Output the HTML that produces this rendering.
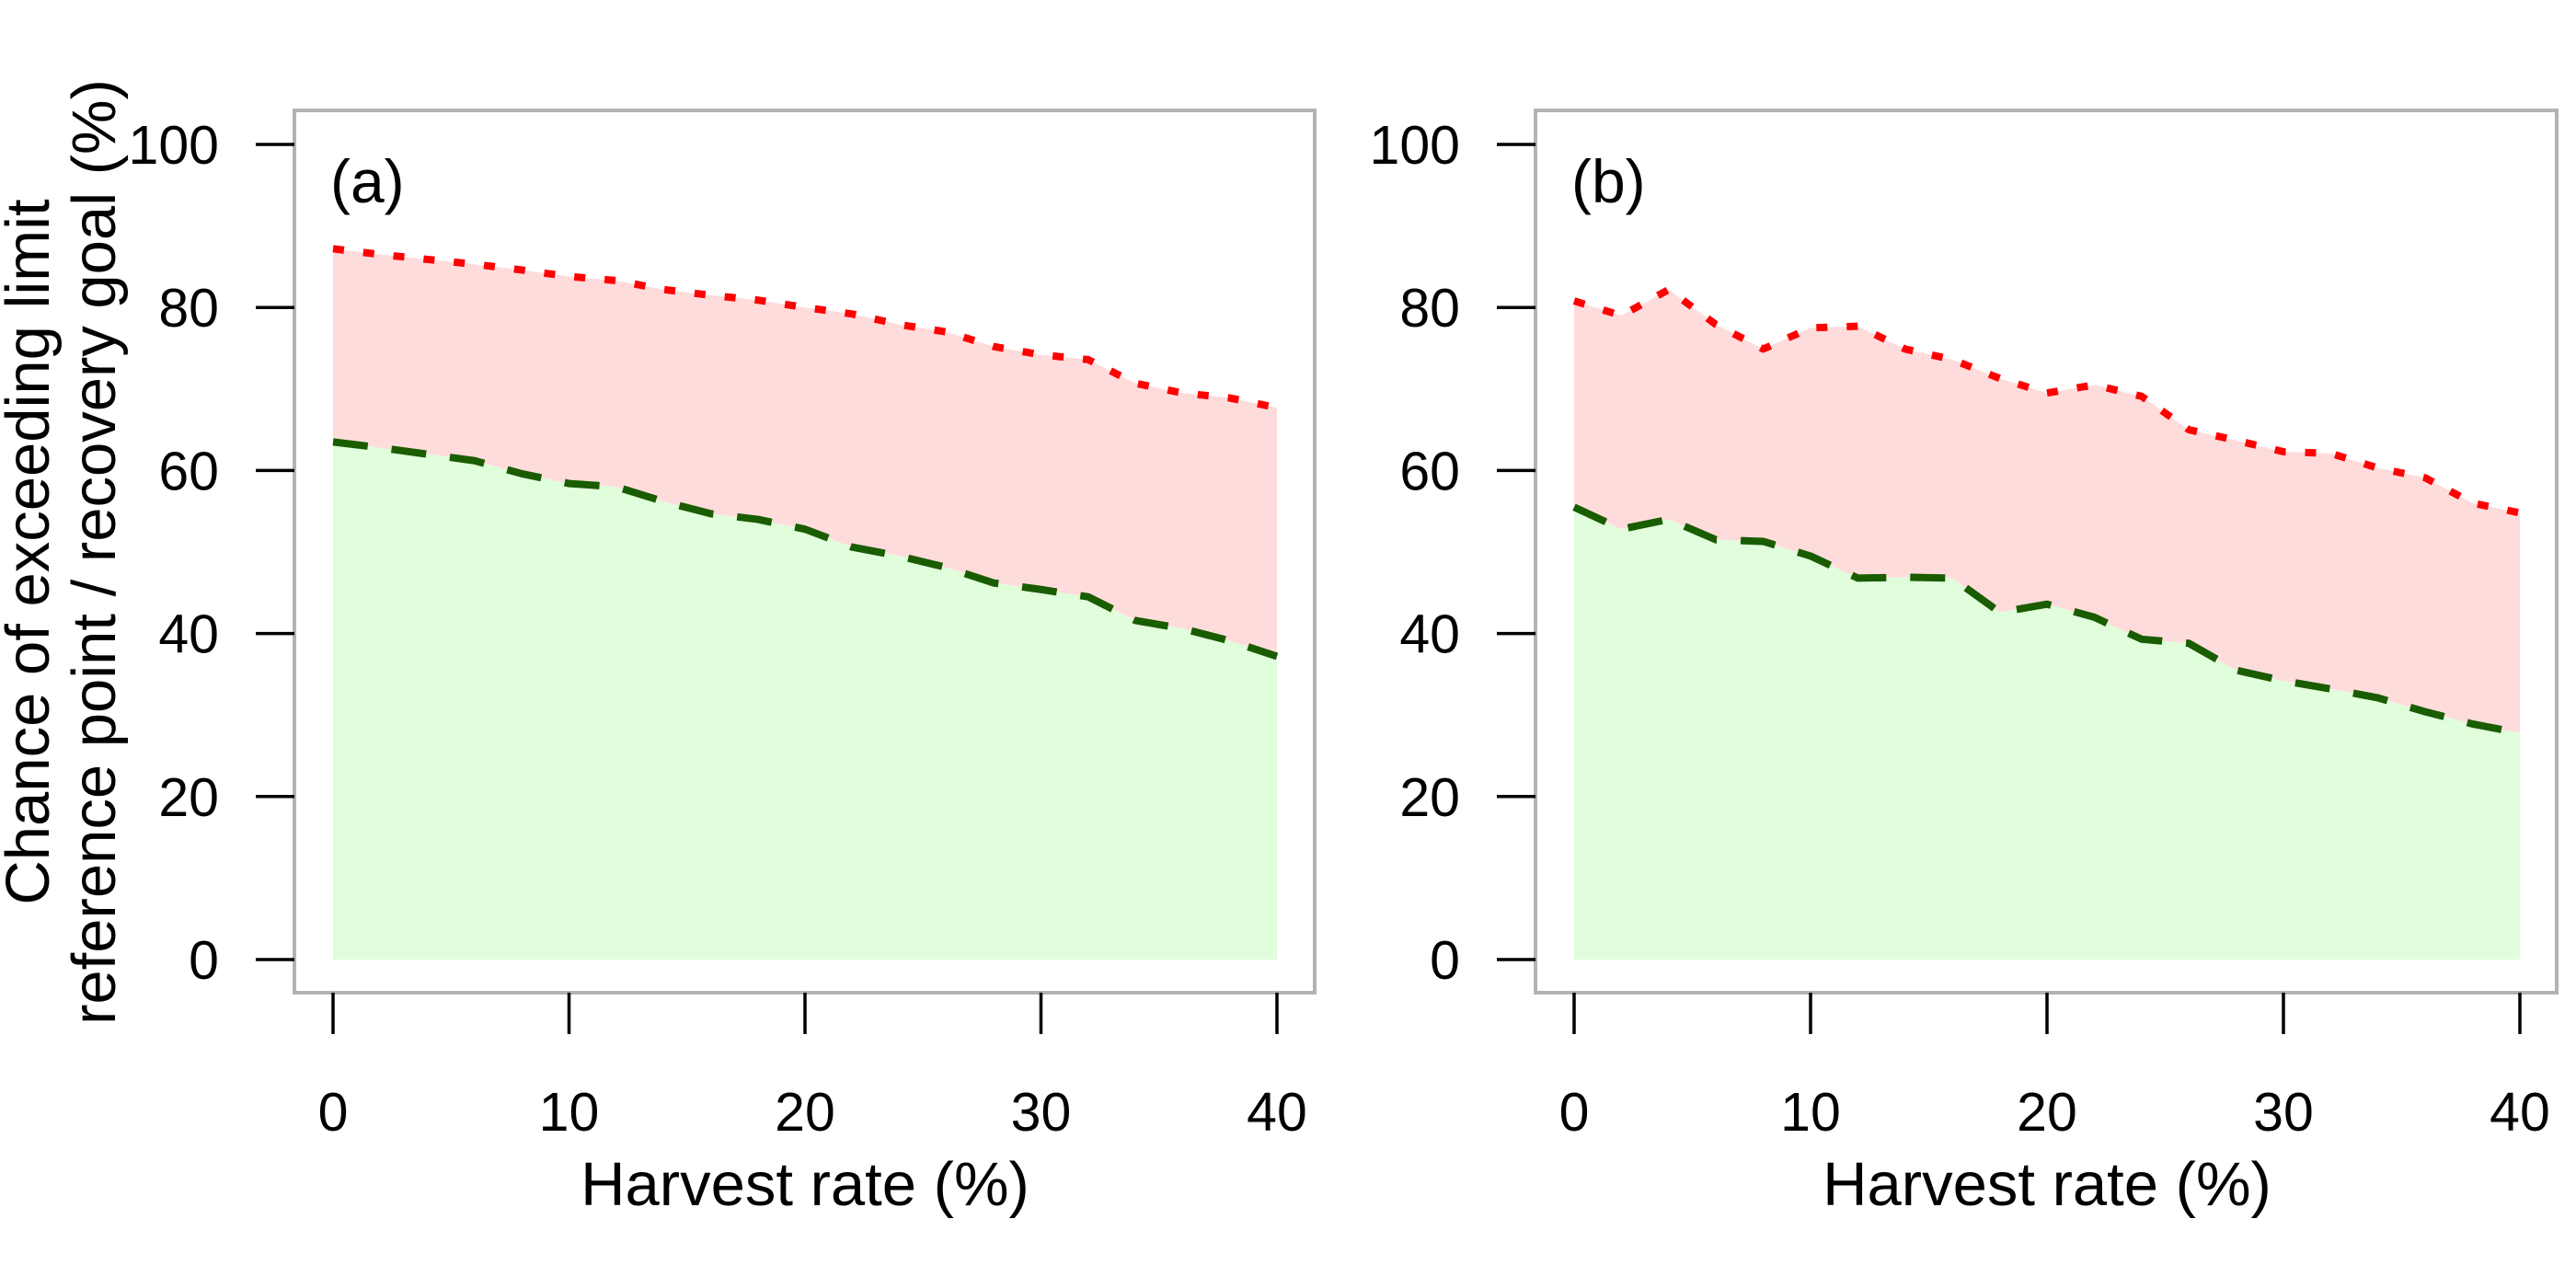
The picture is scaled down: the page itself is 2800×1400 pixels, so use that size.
<!DOCTYPE html>
<html><head><meta charset="utf-8"><style>
html,body{margin:0;padding:0;background:#fff}
svg{display:block;font-family:"Liberation Sans",Arial,sans-serif}
</style></head><body>
<svg id="chart" width="2800" height="1400" viewBox="0 0 2800 1400" xmlns="http://www.w3.org/2000/svg">
<g font-size="67" text-anchor="middle" fill="#000">
<text transform="translate(53,600) rotate(-90)">Chance of exceeding limit</text>
<text transform="translate(125,600) rotate(-90)">reference point / recovery goal (%)</text>
</g>
</svg>
<script>
const xValues = [0,2,4,6,8,10,12,14,16,18,20,22,24,26,28,30,32,34,36,38,40];
const redA = [87.2,86.5,85.9,85.3,84.6,83.8,83.3,82.2,81.5,80.9,80.0,79.2,77.9,77.0,75.2,74.2,73.6,70.7,69.5,68.9,67.7];
const greenA = [63.5,62.8,62.0,61.2,59.6,58.4,58.0,56.2,54.7,54.0,52.8,50.6,49.5,48.1,46.2,45.4,44.5,41.6,40.6,39.1,37.2];
const redB = [80.8,79.0,82.2,77.9,74.9,77.5,77.7,74.9,73.6,71.3,69.5,70.5,69.1,65.0,63.7,62.3,62.1,60.3,59.1,56.0,54.8];
const greenB = [55.5,52.8,54.0,51.5,51.3,49.5,46.8,46.9,46.8,42.6,43.6,42.0,39.3,38.8,35.5,34.2,33.2,32.1,30.4,28.9,27.8];
const xTicks = [0,10,20,30,40];
const yTicks = [0,20,40,60,80,100];
const panelLabels = ["(a)","(b)"];

const NS = "http://www.w3.org/2000/svg";
const svg = document.getElementById('chart');
function mk(tag, attrs, parent){const e=document.createElementNS(NS,tag);for(const k in attrs)e.setAttribute(k,attrs[k]);(parent||svg).appendChild(e);return e;}

const panels = [
  {x0:362, x1:1388, box:[320,120,1429,1079], red:redA, green:greenA, name:'a'},
  {x0:1711, x1:2739, box:[1669,120,2779,1079], red:redB, green:greenB, name:'b'}
];
const yBase = 1043, yTop = 157;
panels.forEach((p,i)=>{
  const xs = v => p.x0 + (v-0)/(40-0)*(p.x1-p.x0);
  const ys = v => yBase - v/100*(yBase-yTop);
  const g = mk('g',{});
  
  
  const redPts = xValues.map((x,j)=>xs(x)+','+ys(p.red[j]));
  const greenPts = xValues.map((x,j)=>xs(x)+','+ys(p.green[j]));
  const pink = mk('polygon',{points: redPts.concat(greenPts.slice().reverse()).join(' '), fill:'#ffdcdc'}, g);
  
  
  const grn = mk('polygon',{points: greenPts.concat([xs(40)+','+ys(0), xs(0)+','+ys(0)]).join(' '), fill:'#e0fddc'}, g);
  
  
  const rl = mk('polyline',{points:redPts.join(' '), fill:'none', stroke:'#ff0000','stroke-width':8,'stroke-dasharray':'12 21','stroke-linejoin':'round'}, g);
  
  
  const gl = mk('polyline',{points:greenPts.join(' '), fill:'none', stroke:'#1a5c00','stroke-width':8,'stroke-dasharray':'38 26','stroke-linejoin':'round'}, g);
  
  
  const b = p.box;
  const box = mk('rect',{x:b[0],y:b[1],width:b[2]-b[0],height:b[3]-b[1],fill:'none',stroke:'#b3b3b3','stroke-width':4}, g);
  
  
  yTicks.forEach(t=>{
    const y = ys(t);
    const tk = mk('line',{x1:b[0]-42,x2:b[0],y1:y,y2:y,stroke:'#000','stroke-width':3.5}, g);
    
    
    const tl = mk('text',{x:b[0]-82,y:y+21,'font-size':59,'text-anchor':'end',fill:'#000'}, g);
    
    
    tl.textContent = t;
  });
  xTicks.forEach(t=>{
    const x = xs(t);
    const tk = mk('line',{x1:x,x2:x,y1:b[3],y2:b[3]+45,stroke:'#000','stroke-width':3.5}, g);
    
    
    const tl = mk('text',{x:x,y:1229,'font-size':59,'text-anchor':'middle',fill:'#000'}, g);
    
    
    tl.textContent = t;
  });
  const xt = mk('text',{x:(p.x0+p.x1)/2,y:1310,'font-size':67,'text-anchor':'middle',fill:'#000'}, g);
  
  
  xt.textContent = 'Harvest rate (%)';
  const pl = mk('text',{x:p.x0-3,y:220,'font-size':66,fill:'#000'}, g);
  
  
  pl.textContent = panelLabels[i];
});
</script>
</body></html>
